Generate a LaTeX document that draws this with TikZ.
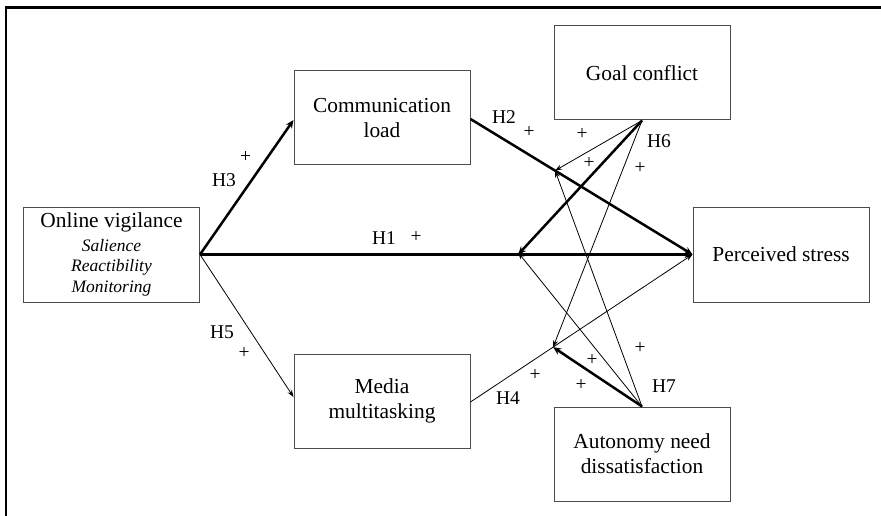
\documentclass[tikz,border=0pt]{standalone}
\usepackage{fontspec}
\setmainfont{Liberation Serif}
\usetikzlibrary{arrows.meta,calc}
\begin{document}
\begin{tikzpicture}[x=1pt,y=-1pt,
  varbox/.style={draw=black!70,line width=1pt,minimum width=176pt,minimum height=94pt,align=center,inner sep=2pt,font=\fontsize{21.4}{25}\selectfont},
  thickarr/.style={line width=2.5pt,-{Stealth[length=8pt,width=7pt]}},
  thinarr/.style={line width=0.8pt,-{Stealth[length=7pt,width=5pt]}},
  lab/.style={inner sep=0pt,font=\fontsize{19.5}{22}\selectfont}]
\useasboundingbox (0,0) rectangle (881,516);
\draw[line width=2.5pt] (6,516) -- (6,7.5) -- (881,7.5);
% boxes
\node[varbox,minimum height=95pt,font=\fontsize{17.5}{20.5}\selectfont] (OV) at (111.5,254.5)
  {{\fontsize{21.4}{20.5}\selectfont Online vigilance}\\[3pt]\textit{Salience}\\\textit{Reactibility}\\\textit{Monitoring}};
\node[varbox] (CL) at (382,118) {Communication\\load};
\node[varbox] (MM) at (382,401) {Media\\multitasking};
\node[varbox] (GC) at (642,73) {Goal conflict};
\node[varbox,minimum height=95pt] (PS) at (781,254.5) {Perceived stress};
\node[varbox] (AN) at (642,454) {Autonomy need\\dissatisfaction};
% main paths
\draw[thickarr] (OV.east) -- ([yshift=-2pt]CL.west);
\draw[thickarr] (OV.east) -- (PS.west);
\draw[thinarr] (OV.east) -- ([yshift=4pt]MM.west);
\draw[thickarr] ([yshift=-1pt]CL.east) -- (PS.west);
\draw[thinarr] ([yshift=-1pt]MM.east) -- (PS.west);
% moderation points
\coordinate (m2) at ($([yshift=-1pt]CL.east)!0.381!(PS.west)$);
\coordinate (m1) at ($(OV.east)!0.646!(PS.west)$);
\coordinate (m4) at ($([yshift=-1pt]MM.east)!0.372!(PS.west)$);
\draw[thinarr] (GC.south) -- (m2);
\draw[thickarr] (GC.south) -- (m1);
\draw[thinarr] (GC.south) -- (m4);
\draw[thinarr] (AN.north) -- (m2);
\draw[thinarr] (AN.north) -- ([yshift=2pt]m1);
\draw[thickarr] (AN.north) -- (m4);
% labels
\node[lab] (h3) at (224,180) {H3};
\node[lab] (p3) at (245.5,157) {+};
\node[lab] (h2) at (504,117) {H2};
\node[lab] (p2) at (529,132) {+};
\node[lab] (h1) at (384,238) {H1};
\node[lab] (p1) at (416,237) {+};
\node[lab] (h5) at (222,332) {H5};
\node[lab] (p5) at (244,353) {+};
\node[lab] (h4) at (508,398) {H4};
\node[lab] (p4) at (535,375) {+};
\node[lab] (h6) at (659,141) {H6};
\node[lab] (p6a) at (582,134) {+};
\node[lab] (p6b) at (589,163) {+};
\node[lab] (p6c) at (640,168) {+};
\node[lab] (h7) at (664,386) {H7};
\node[lab] (p7a) at (640,348) {+};
\node[lab] (p7b) at (592,360) {+};
\node[lab] (p7c) at (581,385) {+};
\end{tikzpicture}
\end{document}
